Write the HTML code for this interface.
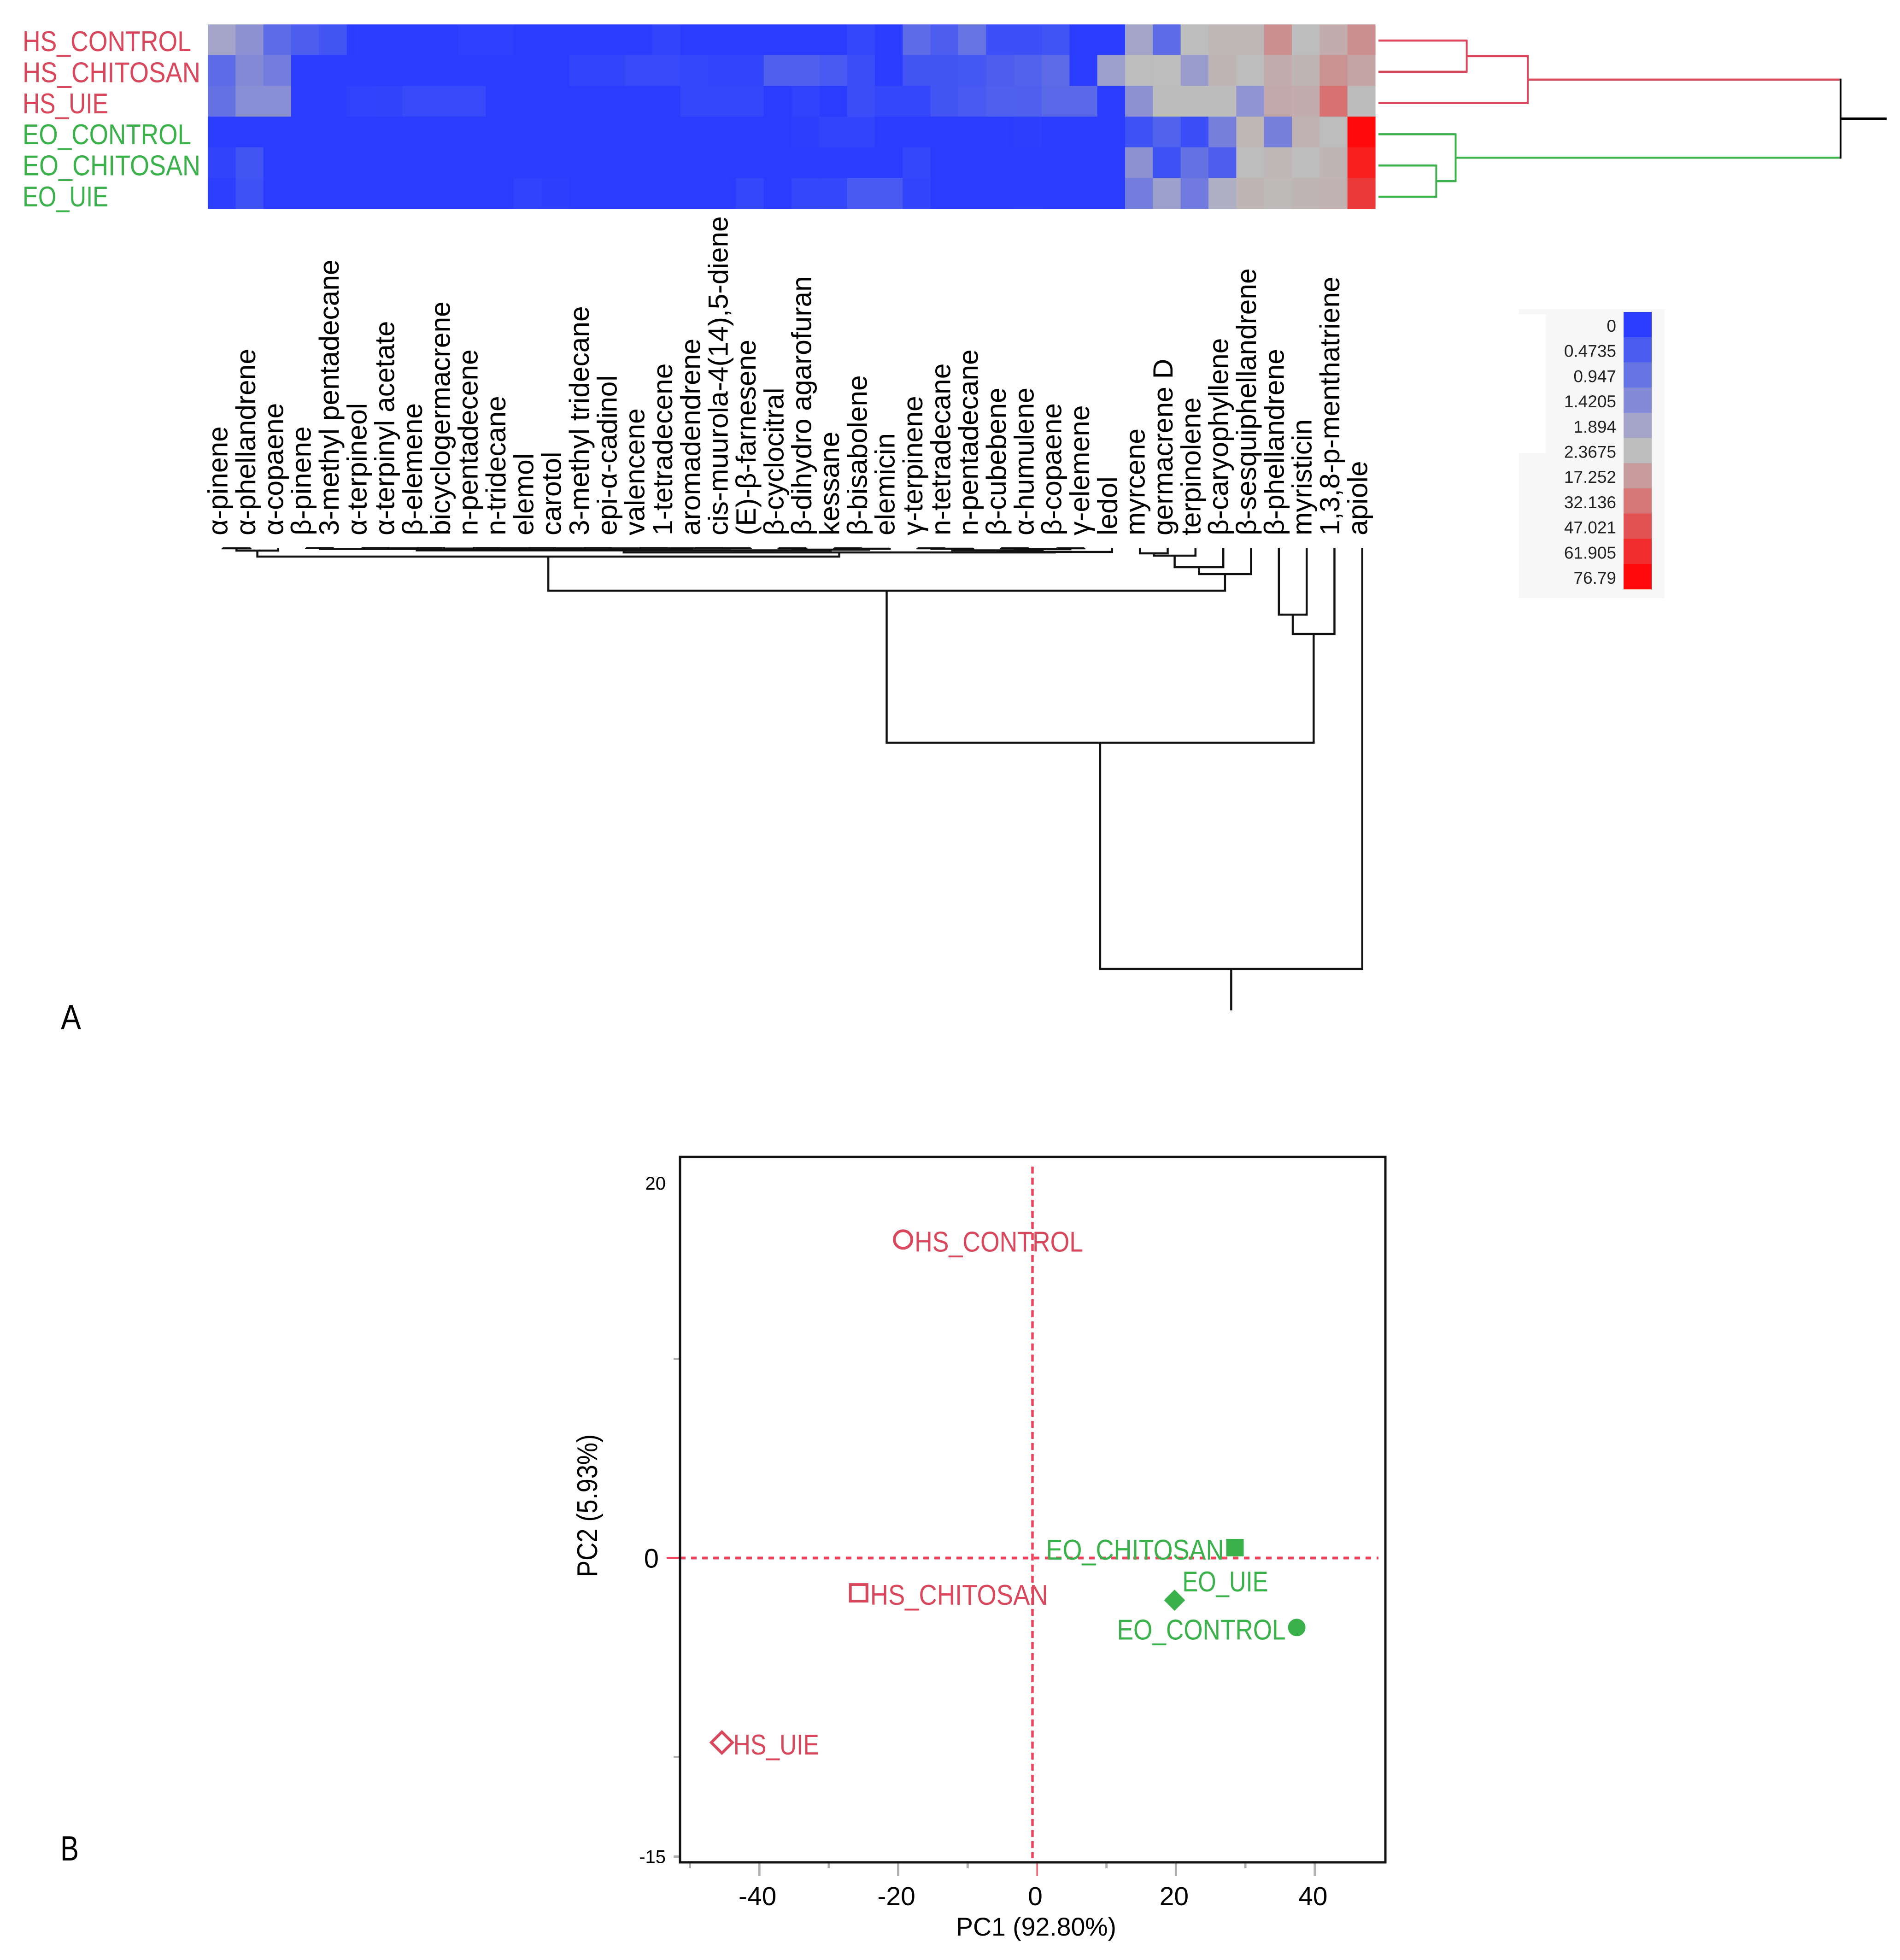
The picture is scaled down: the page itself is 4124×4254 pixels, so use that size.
<!DOCTYPE html>
<html lang="en">
<head>
<meta charset="utf-8">
<title>Heatmap with dendrograms and PCA score plot</title>
<style>
  html, body { margin: 0; padding: 0; background: #ffffff; }
  svg { display: block; }
  text { font-family: "Liberation Sans", sans-serif; }
</style>
</head>
<body>
<svg id="figure" xmlns="http://www.w3.org/2000/svg" width="4124" height="4254" viewBox="0 0 4124 4254">
  <rect x="0" y="0" width="4124" height="4254" fill="#ffffff"/>
  <text x="132" y="2234" font-size="76" textLength="44" lengthAdjust="spacingAndGlyphs" fill="#000">A</text>
  <text x="131" y="4038" font-size="76" textLength="40" lengthAdjust="spacingAndGlyphs" fill="#000">B</text>
  <g id="heatmap"></g>
  <g id="row-labels"></g>
  <g id="column-labels"></g>
  <g id="row-dendrogram"></g>
  <g id="column-dendrogram"></g>
  <g id="legend"></g>
  <g id="pca"></g>
</svg>
<script>
/* ---------- heatmap data ---------- */
const sampleNames = ['HS_CONTROL', 'HS_CHITOSAN', 'HS_UIE', 'EO_CONTROL', 'EO_CHITOSAN', 'EO_UIE'];
const compoundNames = ['α-pinene', 'α-phellandrene', 'α-copaene', 'β-pinene', '3-methyl pentadecane', 'α-terpineol', 'α-terpinyl acetate', 'β-elemene', 'bicyclogermacrene', 'n-pentadecene', 'n-tridecane', 'elemol', 'carotol', '3-methyl tridecane', 'epi-α-cadinol', 'valencene', '1-tetradecene', 'aromadendrene', 'cis-muurola-4(14),5-diene', '(E)-β-farnesene', 'β-cyclocitral', 'β-dihydro agarofuran', 'kessane', 'β-bisabolene', 'elemicin', 'γ-terpinene', 'n-tetradecane', 'n-pentadecane', 'β-cubebene', 'α-humulene', 'β-copaene', 'γ-elemene', 'ledol', 'myrcene', 'germacrene D', 'terpinolene', 'β-caryophyllene', 'β-sesquiphellandrene', 'β-phellandrene', 'myristicin', '1,3,8-p-menthatriene', 'apiole'];

const hsControlValues  = [1.9,1.55,.8,.5,.35,0,0,0,0,.06,.06,0,0,0,0,0,.12,0,0,0,0,0,0,.15,0,.8,.5,.95,.28,.28,.33,0,0,1.9,.8,2.37,5,5,22,2.5,10,22];
const hsChitosanValues = [.8,1.42,1.15,0,0,0,0,0,0,0,0,0,0,.12,.12,.2,.2,.15,.12,.12,.55,.55,.45,.25,0,.35,.35,.4,.5,.6,.8,0,1.8,2.37,2.37,1.75,6,2.4,10,6,21,13];
const hsUieValues      = [.9,1.5,1.5,0,0,.08,.1,.2,.2,.2,0,0,0,0,0,0,0,.15,.15,.15,0,.08,0,.25,.15,.15,.35,.45,.55,.55,.75,.75,0,1.55,2.6,2.6,3,1.6,11,10,34,3];
const eoControlValues  = [0,0,0,0,0,0,0,0,0,0,0,0,0,0,0,0,0,0,0,0,0,.05,.12,.12,0,0,0,0,0,.04,0,0,0,.3,.6,.25,1.2,5,1.2,7,2.37,76.79];
const eoChitosanValues = [.1,.35,0,0,0,0,0,0,0,0,0,0,0,0,0,0,0,0,0,0,0,0,0,0,0,.15,0,0,0,0,0,0,0,1.55,.3,.9,.5,2.37,5,2.5,6,68];
const eoUieValues      = [.03,.3,0,0,0,0,0,0,0,0,0,.08,.05,0,0,0,0,0,0,.15,0,.15,.15,.45,.45,.12,0,0,0,.02,0,0,0,1.15,1.8,1.1,2.1,6,3.5,6,7,57];
const heatmapRows = [hsControlValues, hsChitosanValues, hsUieValues, eoControlValues, eoChitosanValues, eoUieValues];

/* ---------- legend data ---------- */
const legendValues = [0, 0.4735, 0.947, 1.4205, 1.894, 2.3675, 17.252, 32.136, 47.021, 61.905, 76.79];
const legendTickLabels = ['0', '0.4735', '0.947', '1.4205', '1.894', '2.3675', '17.252', '32.136', '47.021', '61.905', '76.79'];

/* ---------- dendrogram data: nested [left, right, distance]; integers are leaf indices ---------- */
const compoundTree = [
  [
    [
      [
        [[0, 1, .11], 2, .66],
        [
          [
            [
              [3, 4, .06],
              [
                [[5, 6, .06], [7, 8, .06], .11],
                [
                  [[[9, 10, .06], [11, 12, .06], .08], [13, 14, .06], .11],
                  [[15, 16, .06], [[17, 18, .06], 19, .08], .11],
                  .14
                ],
                .17
              ],
              .27
            ],
            [[20, 21, .11], [[22, 23, .11], 24, .22], .44],
            .6
          ],
          [
            [
              [[25, 26, .11], 27, .22],
              [[28, 29, .11], [30, 31, .11], .33],
              .6
            ],
            32,
            .98
          ],
          1.09
        ],
        2.08
      ],
      [[[[33, 34, 1.31], 35, 1.86], 36, 4.6], 37, 6.24],
      10.18
    ],
    [[38, 39, 15.86], 40, 20.46],
    46.28
  ],
  41,
  100
];
const sampleTree = [
  [[0, 1, 19.1], 2, 32.3],
  [3, [4, 5, 12.5], 16.7],
  100
];
const sampleClusters = ['HS', 'HS', 'HS', 'EO', 'EO', 'EO'];

/* ---------- PCA data ---------- */
const pcaSamples = ['HS_CONTROL', 'HS_CHITOSAN', 'HS_UIE', 'EO_CHITOSAN', 'EO_UIE', 'EO_CONTROL'];
const pc1Scores = [-19.3, -25.7, -45.4, 28.5, 19.8, 37.4];
const pc2Scores = [16.0, -1.75, -9.27, 0.52, -2.12, -3.49];
const xMajorTicks = [-40, -20, 0, 20, 40];
const xMinorTicks = [-50, -30, -10, 10, 30];
const yTicks = [10, 0, -10, -15];
const yTickLabels = [20, 0, -15];

/* ---------- styling (not data) ---------- */
const SVGNS = 'http://www.w3.org/2000/svg';
const RED = '#d9475c';
const GREEN = '#3bb14b';
const legendColors = ['#2a3dff', '#4a5cf0', '#6673e2', '#858ad8', '#a3a4c8', '#bdbdbd', '#c79b9b', '#d67676', '#e25252', '#f02c2c', '#ff0a0a'];
const labelWidth = { HS_CONTROL: 366, HS_CHITOSAN: 386, HS_UIE: 186, EO_CONTROL: 366, EO_CHITOSAN: 386, EO_UIE: 186 };
const markerStyle = {
  HS_CONTROL: { shape: 'circle', filled: false, size: 38, place: 'right' },
  HS_CHITOSAN: { shape: 'square', filled: false, size: 36, place: 'right' },
  HS_UIE: { shape: 'diamond', filled: false, size: 46, place: 'right' },
  EO_CHITOSAN: { shape: 'square', filled: true, size: 38, place: 'left' },
  EO_UIE: { shape: 'diamond', filled: true, size: 46, place: 'upper-right' },
  EO_CONTROL: { shape: 'circle', filled: true, size: 38, place: 'left' }
};

function make(tag, attrs, parent, text) {
  const node = document.createElementNS(SVGNS, tag);
  for (const key in attrs) node.setAttribute(key, attrs[key]);
  if (text !== undefined) node.textContent = text;
  parent.appendChild(node);
  return node;
}
function slug(s) {
  return String(s).toLowerCase().replace(/[^a-z0-9α-ω]+/g, '-').replace(/^-|-$/g, '');
}

/* ---------- heatmap axes ---------- */
const heatLeft = 451, heatTop = 53, cellW = 2534 / compoundNames.length, cellH = 400 / sampleNames.length;
const colX = i => heatLeft + cellW * i;
const rowY = i => heatTop + cellH * i;

function hexToRgb(h) {
  return [parseInt(h.slice(1, 3), 16), parseInt(h.slice(3, 5), 16), parseInt(h.slice(5, 7), 16)];
}
function valueColor(v) {
  const n = legendValues.length;
  if (v <= legendValues[0]) return legendColors[0];
  if (v >= legendValues[n - 1]) return legendColors[n - 1];
  let i = 0;
  while (v > legendValues[i + 1]) i++;
  const t = (v - legendValues[i]) / (legendValues[i + 1] - legendValues[i]);
  const a = hexToRgb(legendColors[i]), b = hexToRgb(legendColors[i + 1]);
  const c = a.map((x, k) => Math.round(x + (b[k] - x) * t));
  return 'rgb(' + c.join(',') + ')';
}

/* heatmap cells */
const heatGroup = document.getElementById('heatmap');
heatmapRows.forEach((row, r) => {
  row.forEach((value, c) => {
    const cell = make('rect', {
      x: colX(c).toFixed(2), y: rowY(r).toFixed(2),
      width: (cellW + 0.6).toFixed(2), height: (cellH + 0.6).toFixed(2),
      fill: valueColor(value)
    }, heatGroup);
    
    
  });
});

/* row labels */
const rowLabelGroup = document.getElementById('row-labels');
sampleNames.forEach((name, r) => {
  const label = make('text', {
    x: 49, y: (111 + 67.4 * r).toFixed(1), 'font-size': 62,
    textLength: labelWidth[name], lengthAdjust: 'spacingAndGlyphs',
    fill: sampleClusters[r] === 'HS' ? RED : GREEN
  }, rowLabelGroup, name);
  
  
});

/* column labels */
const colLabelGroup = document.getElementById('column-labels');
const colCenter = i => colX(i) + cellW / 2;
compoundNames.forEach((name, c) => {
  const bx = colCenter(c) + 12.5, by = 1162;
  const label = make('text', {
    x: 0, y: 0, 'font-size': 60.5, fill: '#000',
    transform: 'translate(' + bx.toFixed(1) + ' ' + by + ') rotate(-90)'
  }, colLabelGroup, name);
  
  
});

/* column dendrogram */
const colDendGroup = document.getElementById('column-dendrogram');
const colDendBase = 1189, colDendScale = 9.14;
const colDistY = d => colDendBase + d * colDendScale;
const colDendX = i => colCenter(i) + 2;
let colMergeCount = 0;
function drawCompoundNode(node) {
  if (typeof node === 'number') return { x: colDendX(node), y: colDistY(0) };
  const a = drawCompoundNode(node[0]);
  const b = drawCompoundNode(node[1]);
  const y = colDistY(node[2]);
  colMergeCount++;
  const link = make('path', {
    d: 'M' + a.x.toFixed(1) + ' ' + a.y.toFixed(1) + 'V' + y.toFixed(1) + 'H' + b.x.toFixed(1) + 'V' + b.y.toFixed(1),
    fill: 'none', stroke: '#111', 'stroke-width': 4.5
  }, colDendGroup);
  
  
  return { x: (a.x + b.x) / 2, y: y };
}
const compoundRoot = drawCompoundNode(compoundTree);
const compoundStem = make('line', {
  x1: compoundRoot.x, x2: compoundRoot.x, y1: compoundRoot.y, y2: compoundRoot.y + 90,
  stroke: '#111', 'stroke-width': 4.5
}, colDendGroup);



/* row dendrogram */
const rowDendGroup = document.getElementById('row-dendrogram');
const rowDendBase = 2992, rowDendScale = 10.03;
const rowDistX = d => rowDendBase + d * rowDendScale;
const rowLeafY = i => 88 + 67.8 * i;
const clusterColor = c => (c === 'HS' ? RED : c === 'EO' ? GREEN : '#000');
let rowMergeCount = 0;
function drawSampleNode(node) {
  if (typeof node === 'number') return { x: rowDistX(0), y: rowLeafY(node), cluster: sampleClusters[node] };
  const a = drawSampleNode(node[0]);
  const b = drawSampleNode(node[1]);
  const x = rowDistX(node[2]);
  const cluster = a.cluster === b.cluster ? a.cluster : null;
  rowMergeCount++;
  const stemA = make('line', {
    x1: a.x.toFixed(1), x2: x.toFixed(1), y1: a.y.toFixed(1), y2: a.y.toFixed(1),
    stroke: clusterColor(a.cluster), 'stroke-width': 4.5
  }, rowDendGroup);
  
  
  const stemB = make('line', {
    x1: b.x.toFixed(1), x2: x.toFixed(1), y1: b.y.toFixed(1), y2: b.y.toFixed(1),
    stroke: clusterColor(b.cluster), 'stroke-width': 4.5
  }, rowDendGroup);
  
  
  const spine = make('line', {
    x1: x.toFixed(1), x2: x.toFixed(1), y1: (a.y - 2).toFixed(1), y2: (b.y + 2).toFixed(1),
    stroke: clusterColor(cluster), 'stroke-width': 4
  }, rowDendGroup);
  
  
  return { x: x, y: (a.y + b.y) / 2, cluster: cluster };
}
const sampleRoot = drawSampleNode(sampleTree);
const sampleStem = make('line', {
  x1: sampleRoot.x, x2: sampleRoot.x + 100, y1: sampleRoot.y, y2: sampleRoot.y,
  stroke: '#000', 'stroke-width': 5
}, rowDendGroup);



/* legend */
const legendGroup = document.getElementById('legend');
const legendPanel = make('rect', { x: 3297, y: 671, width: 316, height: 627, fill: '#f7f7f7' }, legendGroup);


const legendCutout = make('rect', { x: 3297, y: 682, width: 58, height: 301, fill: '#ffffff' }, legendGroup);


const legendTop = 677, legendStep = 54.7;
legendValues.forEach((v, i) => {
  const swatch = make('rect', {
    x: 3524, y: (legendTop + legendStep * i).toFixed(1), width: 61, height: legendStep + 0.5, fill: valueColor(v)
  }, legendGroup);
  
  
  const tick = make('text', {
    x: 3508, y: (legendTop + 43 + legendStep * i).toFixed(1), 'font-size': 37, 'text-anchor': 'end', fill: '#222'
  }, legendGroup, legendTickLabels[i]);
  
  
});

/* ---------- PCA plot ---------- */
const pca = document.getElementById('pca');
const plotLeft = 1476, plotTop = 2511, plotRight = 3007, plotBottom = 4042;
const xScale = v => 2251 + 15.07 * v;
const yScale = v => 3381.5 - 43.2 * v;

xMinorTicks.forEach(v => {
  const t = make('line', { x1: xScale(v), x2: xScale(v), y1: plotBottom, y2: 4055, stroke: '#b0b0b0', 'stroke-width': 5 }, pca);
  
  
});
xMajorTicks.forEach(v => {
  const t = make('line', { x1: xScale(v), x2: xScale(v), y1: plotBottom, y2: 4072, stroke: v === 0 ? '#f0455f' : '#b0b0b0', 'stroke-width': v === 0 ? 3 : 5 }, pca);
  
  
  const lab = make('text', { x: xScale(v) - 4, y: 4135, 'font-size': 57, 'text-anchor': 'middle', fill: '#000' }, pca, String(v));
  
  
});
yTicks.forEach(v => {
  const t = make('line', {
    x1: v === 0 ? plotLeft - 29 : plotLeft - 14, x2: plotLeft, y1: yScale(v), y2: yScale(v),
    stroke: v === 0 ? '#f0455f' : '#b0b0b0', 'stroke-width': 5
  }, pca);
  
  
});
yTickLabels.forEach(v => {
  /* the top label is held inside the frame, as in the source figure */
  const cy = Math.max(yScale(v), plotTop + 57);
  const big = v === 0;
  const lab = make('text', {
    x: big ? 1430 : 1445, y: (cy + (big ? 21 : 14)).toFixed(1), 'font-size': big ? 58 : 40, 'text-anchor': 'end', fill: '#000'
  }, pca, String(v));
  
  
});

const zeroV = make('line', {
  x1: xScale(0) - 10, x2: xScale(0) - 10, y1: 2532, y2: 4033,
  stroke: '#f0455f', 'stroke-width': 5.5, 'stroke-dasharray': '15 9'
}, pca);


const zeroH = make('line', {
  x1: plotLeft, x2: 2992, y1: yScale(0), y2: yScale(0),
  stroke: '#f0455f', 'stroke-width': 6, 'stroke-dasharray': '12 12'
}, pca);



const frame = make('rect', {
  x: plotLeft, y: plotTop, width: plotRight - plotLeft, height: plotBottom - plotTop,
  fill: 'none', stroke: '#111', 'stroke-width': 5
}, pca);



const xTitle = make('text', {
  x: 2249, y: 4201, 'font-size': 56, 'text-anchor': 'middle', fill: '#000',
  textLength: 348, lengthAdjust: 'spacingAndGlyphs'
}, pca, 'PC1 (92.80%)');


const yTitle = make('text', {
  x: 0, y: 0, 'font-size': 62, 'text-anchor': 'middle', fill: '#000',
  textLength: 310, lengthAdjust: 'spacingAndGlyphs',
  transform: 'translate(1296 3268) rotate(-90)'
}, pca, 'PC2 (5.93%)');



pcaSamples.forEach((name, i) => {
  const px = xScale(pc1Scores[i]), py = yScale(pc2Scores[i]);
  const style = markerStyle[name];
  const color = name.startsWith('HS') ? RED : GREEN;
  const paint = style.filled
    ? { fill: color, stroke: 'none' }
    : { fill: 'none', stroke: color, 'stroke-width': 6 };
  const s = style.size / 2;
  let mark;
  if (style.shape === 'circle') {
    mark = make('circle', Object.assign({ cx: px, cy: py, r: s }, paint), pca);
  } else if (style.shape === 'square') {
    mark = make('rect', Object.assign({ x: px - s, y: py - s, width: s * 2, height: s * 2 }, paint), pca);
  } else {
    mark = make('polygon', Object.assign({
      points: [[px, py - s], [px + s, py], [px, py + s], [px - s, py]].map(p => p.join(',')).join(' ')
    }, paint), pca);
  }
  
  

  let lx = px + 25, ly = py + 26, anchor = 'start';
  if (style.place === 'left') { lx = px - 24; anchor = 'end'; }
  if (style.place === 'upper-right') { lx = px + 17; ly = py - 19; }
  const label = make('text', {
    x: lx.toFixed(1), y: ly.toFixed(1), 'font-size': 62, 'text-anchor': anchor, fill: color,
    textLength: labelWidth[name], lengthAdjust: 'spacingAndGlyphs'
  }, pca, name);
  
  
});
</script>
</body>
</html>
